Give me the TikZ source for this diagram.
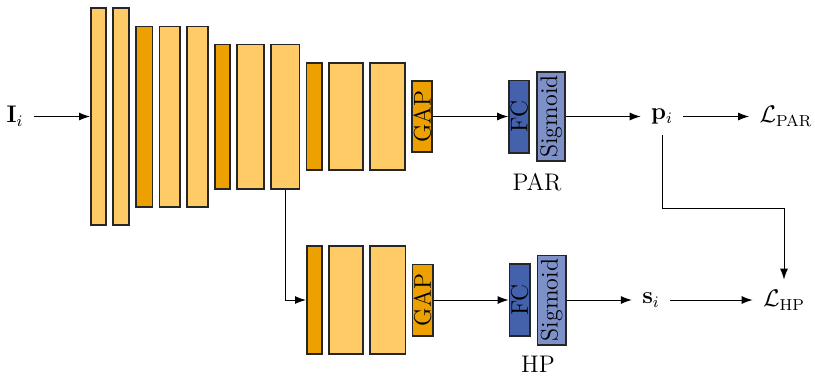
\documentclass[tikz,border=0pt]{standalone}
\usepackage{amsmath}
\usepackage{amssymb}
\usepackage{graphicx}
\usepackage{xcolor}
\usepackage{tikz}
\usetikzlibrary{arrows.meta,positioning}
\definecolor{convyellow}{RGB}{255,203,102}
\definecolor{poolorange}{RGB}{236,161,0}
\definecolor{fcblue}{RGB}{67,98,171}
\definecolor{sigblue}{RGB}{125,144,200}
\tikzset{>={Latex[length=5.5pt,width=4pt]}}
\tikzset{conv block/.style={rectangle,fill=convyellow,draw=black!85,line width=0.9pt,inner sep=0pt,font=\large},
            pool block/.style={conv block,fill=poolorange},
            gap block/.style={pool block,minimum width=10.1pt,minimum height=35.6pt},
            fc block/.style={conv block,fill=fcblue,minimum width=10.1pt,minimum height=36.1pt},
            sig block/.style={conv block,fill=sigblue,minimum width=14.1pt,minimum height=44.6pt},
            math node/.style={inner sep=5pt,font=\large},
            name node/.style={font=\large},
            link/.style={draw,line width=0.5pt,->},
            }

\begin{document}
\begin{tikzpicture}[x=0.5pt,y=-0.5pt]
    \useasboundingbox (0,0) rectangle (815,377);

    \node[math node] (in) at (15,116.5) {$\mathbf{I}_i$};

    \node[conv block,minimum width=7.6pt,minimum height=108.6pt] (c1) at (98.5,116.5) {};
    \node[conv block,minimum width=8.1pt,minimum height=108.6pt] (c2) [right = 2.6pt of c1] {};
    \node[pool block,minimum width=8.1pt,minimum height=90.1pt] (c3) [right = 2.6pt of c2] {};
    \node[conv block,minimum width=10.1pt,minimum height=90.1pt] (c4) [right = 2.6pt of c3] {};
    \node[conv block,minimum width=10.6pt,minimum height=90.1pt] (c5) [right = 2.6pt of c4] {};
    \node[pool block,minimum width=7.6pt,minimum height=72.1pt] (c6) [right = 2.6pt of c5] {};
    \node[conv block,minimum width=13.6pt,minimum height=72.1pt] (c7) [right = 2.6pt of c6] {};
    \node[conv block,minimum width=14.1pt,minimum height=72.1pt] (c8) [right = 2.6pt of c7] {};
    \node[pool block,minimum width=7.6pt,minimum height=53.6pt] (c9) [right = 2.6pt of c8] {};
    \node[conv block,minimum width=17.1pt,minimum height=53.6pt] (c10) [right = 2.6pt of c9] {};
    \node[conv block,minimum width=17.6pt,minimum height=53.6pt] (c11) [right = 2.6pt of c10] {};
    \node[gap block] (gap1) [right = 2.6pt of c11] {\rotatebox{90}{GAP}};

    \node[fc block] (fc1) [right = 37.5pt of gap1] {\rotatebox{90}{FC}};
    \node[sig block] (sig1) [right = 3pt of fc1] {\rotatebox{90}{Sigmoid}};
    \node[name node] (par) at (537,182) {PAR};

    \node[math node] (p) at (662,116.5) {$\mathbf{p}_i$};
    \node[math node] (lpar) at (786,116.5) {$\mathcal{L}_{\mathrm{PAR}}$};

    \node[pool block,minimum width=7.6pt,minimum height=54.1pt] (d1) at (314.5,300) {};
    \node[conv block,minimum width=17.1pt,minimum height=54.1pt] (d2) [right = 2.6pt of d1] {};
    \node[conv block,minimum width=17.6pt,minimum height=54.1pt] (d3) [right = 2.6pt of d2] {};
    \node[gap block] (gap2) [right = 2.6pt of d3] {\rotatebox{90}{GAP}};

    \node[fc block] (fc2) [right = 37.5pt of gap2] {\rotatebox{90}{FC}};
    \node[sig block] (sig2) [right = 3pt of fc2] {\rotatebox{90}{Sigmoid}};
    \node[name node] (hp) at (538,364) {HP};

    \node[math node] (s) at (651,300) {$\mathbf{s}_i$};
    \node[math node] (lhp) at (784,300) {$\mathcal{L}_{\mathrm{HP}}$};

    \coordinate (turn) at (0,208);

    \path[link] (in) -- (c1);
    \path[link] (gap1) -- (fc1);
    \path[link] (sig1) -- (p);
    \path[link] (p) -- (lpar);
    \path[link] (c8.south) |- (d1.west);
    \path[link] (gap2) -- (fc2);
    \path[link] (sig2) -- (s);
    \path[link] (s) -- (lhp);
    \path[link] (p.south) |- (lhp.north |- turn) -- (lhp.north);

\end{tikzpicture}
\end{document}
